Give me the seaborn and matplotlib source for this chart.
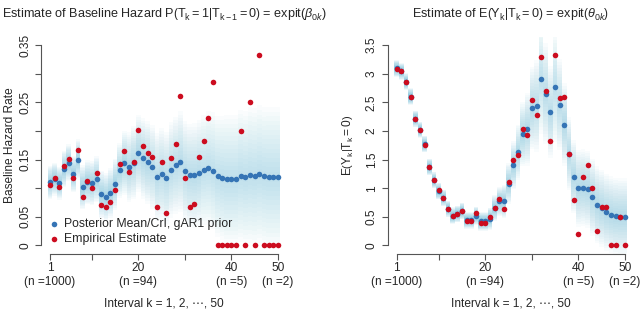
import numpy as np
import pandas as pd
import matplotlib
matplotlib.use("Agg")
import matplotlib.pyplot as plt
from matplotlib.colors import to_rgba
import seaborn as sns

# interval index k = 1..50
k = np.arange(1, 51)

# left panel: baseline hazard
hazard_post = [0.110, 0.116, 0.109, 0.1335, 0.1445, 0.125, 0.150, 0.1015, 0.110, 0.1085,
               0.1155, 0.089, 0.0846, 0.092, 0.107, 0.131, 0.1445, 0.1365, 0.1445, 0.161,
               0.152, 0.145, 0.1365, 0.120, 0.125, 0.118, 0.132, 0.140, 0.146, 0.130,
               0.123, 0.1225, 0.127, 0.132, 0.135, 0.1305, 0.121, 0.118, 0.1155, 0.1155,
               0.1155, 0.122, 0.119, 0.1225, 0.121, 0.1245, 0.121, 0.120, 0.120, 0.120]
hazard_emp = [0.106, 0.118, 0.102, 0.139, 0.151, 0.118, 0.166, 0.084, 0.113, 0.101,
              0.126, 0.0707, 0.0666, 0.0765, 0.0974, 0.142, 0.165, 0.128, 0.1457, 0.202,
              0.174, 0.161, 0.154, 0.068, 0.146, 0.057, 0.152, 0.178, 0.261, 0.118,
              0.0666, 0.072, 0.154, 0.182, 0.222, 0.286, 0.0, 0.0, 0.0, 0.0,
              0.0, 0.200, 0.0, 0.250, 0.0, 0.333, 0.0, 0.0, 0.0, 0.0]
hazard_cri = [0.018, 0.018, 0.018, 0.02, 0.02, 0.02, 0.022, 0.024, 0.024, 0.024,
              0.025, 0.026, 0.026, 0.027, 0.028, 0.03, 0.035, 0.038, 0.04, 0.042,
              0.044, 0.045, 0.046, 0.048, 0.05, 0.05, 0.052, 0.053, 0.055, 0.055,
              0.056, 0.057, 0.058, 0.06, 0.062, 0.064, 0.066, 0.068, 0.07, 0.07,
              0.07, 0.072, 0.072, 0.074, 0.074, 0.075, 0.075, 0.076, 0.076, 0.076]

# right panel: E(Y_k | T_k = 0)
ey_post = [3.09, 3.04, 2.86, 2.60, 2.21, 2.02, 1.77, 1.37, 1.14, 0.95,
           0.83, 0.64, 0.52, 0.55, 0.60, 0.44, 0.44, 0.52, 0.42, 0.42,
           0.47, 0.65, 0.77, 0.77, 1.08, 1.40, 1.63, 1.94, 2.03, 2.40,
           2.44, 2.91, 2.65, 2.33, 2.76, 2.46, 2.11, 1.60, 1.20, 1.00,
           1.01, 0.98, 0.84, 0.71, 0.65, 0.58, 0.54, 0.51, 0.50, 0.50]
ey_emp = [3.08, 3.04, 2.86, 2.60, 2.21, 2.01, 1.76, 1.37, 1.15, 0.96,
          0.83, 0.64, 0.51, 0.55, 0.61, 0.43, 0.43, 0.56, 0.40, 0.40,
          0.49, 0.66, 0.81, 0.64, 1.10, 1.49, 1.58, 2.04, 1.92, 2.54,
          2.27, 3.29, 2.70, 1.83, 3.33, 2.58, 2.60, 1.60, 0.80, 0.20,
          1.20, 1.40, 1.00, 0.25, 0.67, 0.67, 0.00, 0.00, 0.50, 0.00]
ey_cri = [0.09, 0.09, 0.09, 0.09, 0.09, 0.09, 0.09, 0.09, 0.09, 0.09,
          0.09, 0.09, 0.09, 0.09, 0.09, 0.09, 0.09, 0.1, 0.1, 0.1,
          0.12, 0.14, 0.16, 0.18, 0.22, 0.26, 0.3, 0.35, 0.4, 0.45,
          0.5, 0.6, 0.55, 0.5, 0.6, 0.5, 0.45, 0.4, 0.4, 0.42,
          0.42, 0.42, 0.42, 0.42, 0.42, 0.42, 0.42, 0.42, 0.42, 0.42]

xtick_pos = [1, 10, 20, 30, 40, 50]
xtick_lab = ["1\n(n =1000)", "", "20\n(n =94)", "", "40\n(n =5)", "50\n(n =2)"]

BLUE = "#3574b5"
RED = "#cc0c1f"
SHADE = "#5cb4d4"

sns.set_theme(style="white")
plt.rcParams['font.family'] = ['Liberation Sans', 'DejaVu Sans']
plt.rcParams['mathtext.fontset'] = 'custom'
plt.rcParams['mathtext.rm'] = 'Liberation Sans'
plt.rcParams['mathtext.it'] = 'Liberation Sans:italic'

df_h = pd.DataFrame({"k": k, "post": hazard_post, "emp": hazard_emp, "cri": hazard_cri})
df_e = pd.DataFrame({"k": k, "post": ey_post, "emp": ey_emp, "cri": ey_cri})

fig = plt.figure(figsize=(6.4, 3.12), dpi=100)
ax1 = fig.add_axes([0.0639, 0.1875, 0.3847, 0.694])
ax2 = fig.add_axes([0.6056, 0.1875, 0.3853, 0.694])


def shade(ax, df, px_per_unit):
    # layered translucent bars give a density-like gradient; wider bands are fainter
    hw_px = df["cri"].to_numpy() * px_per_unit
    alpha = np.clip(0.06 * np.sqrt(8.0 / hw_px), 0.022, 0.075)
    base = to_rgba(SHADE)
    cols = [(base[0], base[1], base[2], a) for a in alpha]
    for z in np.linspace(0.12, 1.6, 15):
        ax.bar(df["k"], 2 * df["cri"] * z, bottom=df["post"] - df["cri"] * z,
               width=1.0, color=cols, linewidth=0)


def panel(ax, df, ylim, yticks, ylabels, title, px_per_unit):
    shade(ax, df, px_per_unit)
    sns.scatterplot(data=df, x="k", y="post", ax=ax, color=BLUE, s=16, linewidth=0,
                    label="Posterior Mean/CrI, gAR1 prior", zorder=3)
    sns.scatterplot(data=df, x="k", y="emp", ax=ax, color=RED, s=16, linewidth=0,
                    label="Empirical Estimate", zorder=4)
    ax.set_xlim(1 - 0.04 * 49, 50 + 0.04 * 49)
    ax.set_ylim(ylim)
    for s in ["top", "right"]:
        ax.spines[s].set_visible(False)
    ax.spines["left"].set_bounds(yticks[0], yticks[-1])
    ax.spines["bottom"].set_bounds(1, 50)
    for s in ["left", "bottom"]:
        ax.spines[s].set_color("#555555")
        ax.spines[s].set_linewidth(0.8)
    ax.set_xticks(xtick_pos)
    ax.set_xticklabels(xtick_lab, fontsize=8.6, linespacing=1.2)
    ax.set_yticks(yticks)
    ax.set_yticklabels(ylabels, fontsize=8.6, rotation=90, va="center")
    ax.tick_params(axis="both", direction="out", length=4, width=0.8, color="#555555",
                   bottom=True, left=True, pad=2)
    ax.tick_params(axis="y", pad=3)
    ax.set_title(title, fontsize=9.1, pad=14)
    ax.set_xlabel("Interval k = 1, 2, \u22ef, 50", fontsize=8.6, labelpad=7)


h_ticks = [0, 0.05, 0.10, 0.15, 0.20, 0.25, 0.30, 0.35]
h_labels = ["0", "0.05", "", "0.15", "", "0.25", "", "0.35"]
panel(ax1, df_h, (-0.014, 0.364), h_ticks, h_labels,
      r"Estimate of Baseline Hazard P$\left(\mathrm{T_k} = 1\right|\left.\mathrm{T_{k-1}} = 0\right)$ = expit$\left(\beta_{0k}\right)$",
      573)
ax1.set_ylabel("Baseline Hazard Rate", fontsize=8.6, labelpad=2)
ax1.legend(loc="lower left", bbox_to_anchor=(-0.01, 0.0), frameon=False, fontsize=8.8,
           handletextpad=0.2, borderpad=0.2, labelspacing=0.25, markerscale=1.0,
           handlelength=1.2)

e_ticks = [0, 0.5, 1, 1.5, 2, 2.5, 3, 3.5]
e_labels = ["0", "0.5", "1", "1.5", "2", "2.5", "3", "3.5"]
panel(ax2, df_e, (-0.14, 3.64), e_ticks, e_labels,
      r"Estimate of E$\left(\mathrm{Y_k}\right|\left.\mathrm{T_k} = 0\right)$ = expit$\left(\theta_{0k}\right)$",
      57.3)
ax2.set_ylabel(r"E$\left(\mathrm{Y_k}\right|\left.\mathrm{T_k} = 0\right)$", fontsize=8.6, labelpad=7)
ax2.get_legend().remove()

fig.savefig("out.png", dpi=100)
